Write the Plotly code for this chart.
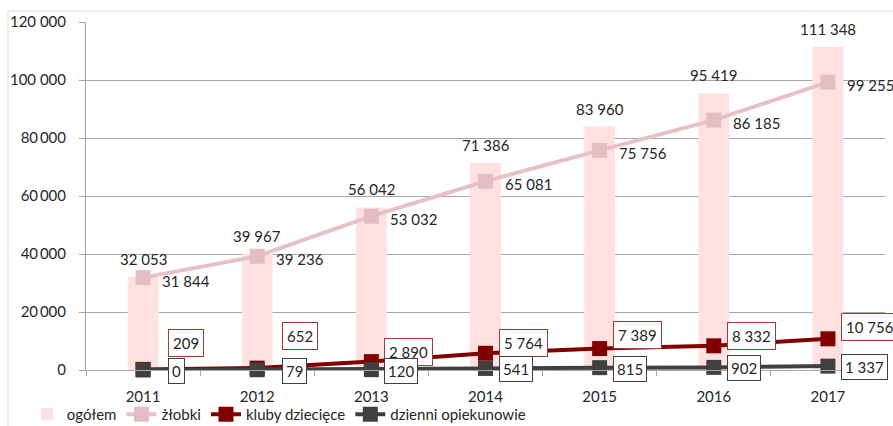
import plotly.graph_objects as go

years = ["2011", "2012", "2013", "2014", "2015", "2016", "2017"]
ogolem = [32053, 39967, 56042, 71386, 83960, 95419, 111348]
zlobki = [31844, 39236, 53032, 65081, 75756, 86185, 99255]
kluby = [209, 652, 2890, 5764, 7389, 8332, 10756]
dzienni = [0, 79, 120, 541, 815, 902, 1337]

y_tickvals = [0, 20000, 40000, 60000, 80000, 100000, 120000]
y_ticktext = ["0", "20\u2009000", "40\u2009000", "60\u2009000", "80\u2009000", "100 000", "120 000"]

names = ["ogółem", "żłobki", "kluby dziecięce", "dzienni opiekunowie"]

FONT = "Lato"
TXT = "#262626"
GRID = "#A6A6A6"

def fmt(v):
    return f"{v:,}".replace(",", " ")

fig = go.Figure()
fig.add_trace(go.Bar(x=years, y=ogolem, name=names[0], width=0.27,
                     marker=dict(color="#FFE1E1", line=dict(width=0))))
fig.add_trace(go.Scatter(x=years, y=zlobki, name=names[1], mode="lines+markers",
                         line=dict(color="#E6C2C6", width=4),
                         marker=dict(symbol="square", size=15, color="#E2BDC1"),
                         cliponaxis=False))
fig.add_trace(go.Scatter(x=years, y=kluby, name=names[2], mode="lines+markers",
                         line=dict(color="#800000", width=4),
                         marker=dict(symbol="square", size=15, color="#800000"),
                         cliponaxis=False))
fig.add_trace(go.Scatter(x=years, y=dzienni, name=names[3], mode="lines+markers",
                         line=dict(color="#404040", width=4),
                         marker=dict(symbol="square", size=15, color="#404040"),
                         cliponaxis=False))

annotations = []
# label layout offsets (pixels)
box_xshift = [25, 25, 13, 13, 13, 13, 13]
kluby_lift = [26, 32, 10, 10, 14, 10, 12]
for i, yr in enumerate(years):
    # category axis: position annotations by category index
    annotations.append(dict(x=i, y=ogolem[i], text=fmt(ogolem[i]), showarrow=False,
                            xanchor="center", yanchor="middle", yshift=18,
                            font=dict(family=FONT, size=15, color=TXT)))
    annotations.append(dict(x=i, y=zlobki[i], text=fmt(zlobki[i]), showarrow=False,
                            xanchor="left", yanchor="middle", xshift=17, yshift=-3,
                            font=dict(family=FONT, size=15, color=TXT)))
    annotations.append(dict(x=i, y=kluby[i], text=fmt(kluby[i]), showarrow=False,
                            xanchor="left", yanchor="middle", xshift=box_xshift[i],
                            yshift=kluby_lift[i], bgcolor="white",
                            bordercolor="#A0393C", borderwidth=1, borderpad=4,
                            font=dict(family=FONT, size=15, color=TXT)))
    annotations.append(dict(x=i, y=dzienni[i], text=fmt(dzienni[i]), showarrow=False,
                            xanchor="left", yanchor="middle", xshift=box_xshift[i],
                            yshift=-1, bgcolor="white",
                            bordercolor="#404040", borderwidth=1, borderpad=3,
                            font=dict(family=FONT, size=15, color=TXT)))

fig.update_layout(
    width=893, height=426,
    margin=dict(l=86, r=8, t=22, b=56, autoexpand=False),
    paper_bgcolor="white", plot_bgcolor="white",
    font=dict(family=FONT, size=15, color=TXT),
    showlegend=True,
    legend=dict(orientation="h", xref="paper", yref="paper",
                x=-0.074, xanchor="left", y=-0.128, yanchor="middle",
                font=dict(family=FONT, size=15, color=TXT),
                itemwidth=30, tracegroupgap=0, bgcolor="rgba(0,0,0,0)"),
    bargap=0.73,
    annotations=annotations,
    shapes=[dict(type="rect", xref="paper", yref="paper",
                 x0=-0.0976, x1=1.2, y0=-0.5, y1=1.0316,
                 line=dict(color="#D9D9D9", width=1), layer="below")],
)
fig.update_xaxes(type="category", range=[-0.5, 6.5], showgrid=False,
                 showline=True, linecolor=GRID, linewidth=1,
                 ticks="outside", ticklen=5, tickcolor=GRID, tickson="boundaries",
                 ticklabelstandoff=13, automargin=False,
                 tickfont=dict(family=FONT, size=15, color=TXT))
fig.update_yaxes(range=[0, 120000], tickvals=y_tickvals, ticktext=y_ticktext,
                 showgrid=True, gridcolor=GRID, gridwidth=1,
                 showline=True, linecolor=GRID, linewidth=1,
                 ticks="outside", ticklen=6, tickcolor=GRID,
                 ticklabelstandoff=10, zeroline=False, automargin=False,
                 tickfont=dict(family=FONT, size=15, color=TXT))

fig.write_html("out.html", config={"displayModeBar": False},
               post_script="document.body.style.margin='0';document.body.style.overflow='hidden';")
